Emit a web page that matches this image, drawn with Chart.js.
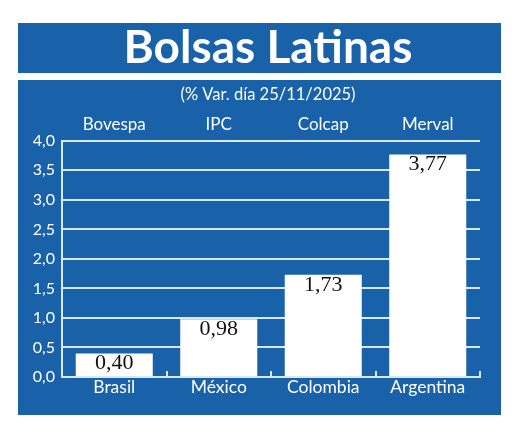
<!DOCTYPE html>
<html>
<head>
<meta charset="utf-8">
<script src="https://cdn.jsdelivr.net/npm/chart.js@4"></script>
<style>
  html, body { margin: 0; padding: 0; background: #ffffff; }
  #c { display: block; }
</style>
</head>
<body>
<canvas id="c" width="520" height="432"></canvas>
<script>
const countries = ['Brasil', 'México', 'Colombia', 'Argentina'];
const indices = ['Bovespa', 'IPC', 'Colcap', 'Merval'];
const variation = [0.40, 0.98, 1.73, 3.77];
const titleText = 'Bolsas Latinas';
const subtitleText = '(% Var. día 25/11/2025)';

const BLUE = '#1961a9';
const GRID = '#d8e8f7';
const fmt = v => v.toFixed(2).replace('.', ',');

const panelPlugin = {
  id: 'panel',
  beforeDraw(chart) {
    const ctx = chart.ctx;
    ctx.save();
    ctx.fillStyle = '#ffffff';
    ctx.fillRect(0, 0, chart.width, chart.height);
    ctx.fillStyle = BLUE;
    ctx.fillRect(18, 23, 483, 50);
    ctx.fillRect(18, 80, 483, 335);
    ctx.restore();
  }
};

const extrasPlugin = {
  id: 'extras',
  afterDatasetsDraw(chart) {
    const ctx = chart.ctx;
    const xs = chart.scales.x;
    const ys = chart.scales.y;
    ctx.save();
    // upward tick marks at category boundaries
    const step = xs.getPixelForValue(1) - xs.getPixelForValue(0);
    ctx.strokeStyle = GRID;
    ctx.lineWidth = 2;
    for (let i = 0; i < countries.length; i++) {
      const bx = Math.round(xs.getPixelForValue(i) + step / 2);
      ctx.beginPath();
      ctx.moveTo(bx, ys.getPixelForValue(0));
      ctx.lineTo(bx, ys.getPixelForValue(0) - 6);
      ctx.stroke();
    }
    // value labels inside bars
    const meta = chart.getDatasetMeta(0);
    ctx.fillStyle = '#111111';
    ctx.font = '22px "Liberation Serif", serif';
    ctx.textAlign = 'center';
    ctx.textBaseline = 'middle';
    meta.data.forEach((el, i) => {
      ctx.fillText(fmt(variation[i]), el.x, Math.min(el.y + 10, el.base - 13));
    });
    ctx.restore();
  }
};

new Chart(document.getElementById('c'), {
  type: 'bar',
  data: {
    labels: countries,
    datasets: [{
      data: variation,
      backgroundColor: '#ffffff',
      borderWidth: 0,
      categoryPercentage: 1.0,
      barPercentage: 0.737
    }]
  },
  options: {
    responsive: false,
    animation: false,
    devicePixelRatio: 1,
    layout: { padding: { left: 16, right: 0, top: 0, bottom: 25 } },
    plugins: {
      legend: { display: false },
      tooltip: { enabled: false },
      title: {
        display: true,
        text: titleText,
        color: '#ffffff',
        font: { family: 'Lato', size: 46, weight: 'bold', lineHeight: 1.0 },
        padding: { top: 25, bottom: 13.4 }
      },
      subtitle: {
        display: true,
        text: subtitleText,
        color: '#ffffff',
        font: { family: 'Lato', size: 16.5, lineHeight: 1.2 },
        padding: { top: 0, bottom: 0 }
      }
    },
    scales: {
      x: {
        type: 'category',
        position: 'bottom',
        offset: true,
        grid: { display: false, drawTicks: false },
        border: { display: true, color: GRID, width: 2 },
        ticks: {
          color: '#ffffff',
          padding: 0,
          font: { family: 'Lato', size: 17.5 },
          maxRotation: 0
        },
        afterFit(s) { s.height = 30; }
      },
      xTop: {
        type: 'category',
        position: 'top',
        labels: indices,
        offset: true,
        grid: { display: false, drawTicks: false },
        border: { display: false },
        ticks: {
          color: '#ffffff',
          padding: 6,
          font: { family: 'Lato', size: 17 },
          maxRotation: 0
        },
        afterFit(s) { s.height = 36.6; }
      },
      y: {
        min: 0,
        max: 4,
        ticks: {
          stepSize: 0.5,
          color: '#ffffff',
          padding: 7,
          font: { family: 'Lato', size: 16 },
          callback: v => v.toFixed(1).replace('.', ',')
        },
        grid: {
          drawTicks: false,
          color: ctx => ctx.tick && ctx.tick.value === 0 ? 'rgba(0,0,0,0)' : GRID,
          lineWidth: 2
        },
        border: { display: true, color: GRID, width: 2 },
        afterFit(s) { s.width = 46; }
      },
      yRight: {
        type: 'linear',
        position: 'right',
        display: true,
        grid: { display: false, drawTicks: false },
        border: { display: false },
        ticks: { display: false },
        afterFit(s) { s.width = 40; }
      }
    }
  },
  plugins: [panelPlugin, extrasPlugin]
});
</script>
</body>
</html>
